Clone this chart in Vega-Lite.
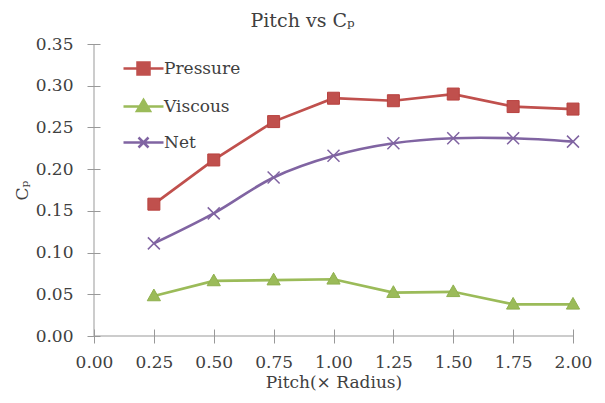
{
  "$schema": "https://vega.github.io/schema/vega-lite/v6.json",
  "width": 479,
  "height": 292,
  "autosize": "none",
  "padding": {"left": 94, "top": 44, "right": 32, "bottom": 67},
  "background": "white",
  "title": {"text": "Pitch vs Cₚ", "fontSize": 19, "font": "DejaVu Serif", "fontWeight": "normal", "color": "#404040", "anchor": "middle", "frame": "bounds", "offset": 4},
  "config": {
    "view": {"stroke": null},
    "font": "DejaVu Serif",
    "axis": {"grid": false, "domain": false, "tickColor": "#999999", "labelFont": "DejaVu Serif", "labelFontSize": 17, "labelColor": "#404040", "titleFont": "DejaVu Serif", "titleFontSize": 17, "titleFontWeight": "normal", "titleColor": "#404040", "labelOverlap": false, "labelFlush": false},
    "legend": {"labelFont": "DejaVu Serif", "labelFontSize": 17, "labelColor": "#404040", "symbolSize": 400, "symbolStrokeWidth": 2.5, "padding": 0, "rowPadding": 15, "labelOffset": 9}
  },
  "data": {"values": [
    {"pitch": 0.25, "series": "Pressure", "cp": 0.158},
    {"pitch": 0.5, "series": "Pressure", "cp": 0.211},
    {"pitch": 0.75, "series": "Pressure", "cp": 0.257},
    {"pitch": 1.0, "series": "Pressure", "cp": 0.285},
    {"pitch": 1.25, "series": "Pressure", "cp": 0.282},
    {"pitch": 1.5, "series": "Pressure", "cp": 0.290},
    {"pitch": 1.75, "series": "Pressure", "cp": 0.275},
    {"pitch": 2.0, "series": "Pressure", "cp": 0.272},
    {"pitch": 0.25, "series": "Viscous", "cp": 0.048},
    {"pitch": 0.5, "series": "Viscous", "cp": 0.066},
    {"pitch": 0.75, "series": "Viscous", "cp": 0.067},
    {"pitch": 1.0, "series": "Viscous", "cp": 0.068},
    {"pitch": 1.25, "series": "Viscous", "cp": 0.052},
    {"pitch": 1.5, "series": "Viscous", "cp": 0.053},
    {"pitch": 1.75, "series": "Viscous", "cp": 0.038},
    {"pitch": 2.0, "series": "Viscous", "cp": 0.038},
    {"pitch": 0.25, "series": "Net", "cp": 0.111},
    {"pitch": 0.5, "series": "Net", "cp": 0.147},
    {"pitch": 0.75, "series": "Net", "cp": 0.190},
    {"pitch": 1.0, "series": "Net", "cp": 0.216},
    {"pitch": 1.25, "series": "Net", "cp": 0.231},
    {"pitch": 1.5, "series": "Net", "cp": 0.237},
    {"pitch": 1.75, "series": "Net", "cp": 0.237},
    {"pitch": 2.0, "series": "Net", "cp": 0.233}
  ]},
  "layer": [
    {
      "transform": [{"filter": "datum.series == 'Pressure'"}],
      "mark": {"type": "line", "color": "#C0504D", "strokeWidth": 2.7},
      "encoding": {
        "x": {"field": "pitch", "type": "quantitative", "scale": {"domain": [0, 2]},
              "axis": {"title": "Pitch(× Radius)", "values": [0, 0.25, 0.5, 0.75, 1, 1.25, 1.5, 1.75, 2], "format": ".2f", "offset": -7, "tickSize": 14, "labelPadding": 11, "titlePadding": 4}},
        "y": {"field": "cp", "type": "quantitative", "scale": {"domain": [0, 0.35]},
              "axis": {"title": "Cₚ", "values": [0, 0.05, 0.1, 0.15, 0.2, 0.25, 0.3, 0.35], "format": ".2f", "offset": -6, "tickSize": 13, "labelPadding": 14, "titlePadding": 4}}
      }
    },
    {
      "transform": [{"filter": "datum.series == 'Viscous'"}],
      "mark": {"type": "line", "color": "#9BBB59", "strokeWidth": 2.7},
      "encoding": {
        "x": {"field": "pitch", "type": "quantitative"},
        "y": {"field": "cp", "type": "quantitative"}
      }
    },
    {
      "transform": [{"filter": "datum.series == 'Net'"}],
      "mark": {"type": "line", "color": "#8064A2", "strokeWidth": 2.7, "interpolate": "catmull-rom"},
      "encoding": {
        "x": {"field": "pitch", "type": "quantitative"},
        "y": {"field": "cp", "type": "quantitative"}
      }
    },
    {
      "transform": [{"filter": "datum.series == 'Pressure'"}],
      "mark": {"type": "point", "shape": "M-1,-1H1V1H-1Z", "filled": true, "size": 144, "fill": "#C0504D", "stroke": "#B8423F", "strokeWidth": 1, "opacity": 1},
      "encoding": {
        "x": {"field": "pitch", "type": "quantitative"},
        "y": {"field": "cp", "type": "quantitative"}
      }
    },
    {
      "transform": [{"filter": "datum.series == 'Viscous'"}],
      "mark": {"type": "point", "shape": "M0,-1.15L1.1,0.8H-1.1Z", "filled": true, "size": 144, "fill": "#9BBB59", "stroke": "#8FB04E", "strokeWidth": 1, "opacity": 1},
      "encoding": {
        "x": {"field": "pitch", "type": "quantitative"},
        "y": {"field": "cp", "type": "quantitative"}
      }
    },
    {
      "transform": [{"filter": "datum.series == 'Net'"}],
      "mark": {"type": "point", "shape": "M-1,-1L1,1M-1,1L1,-1", "filled": false, "size": 144, "stroke": "#8064A2", "strokeWidth": 1.5, "opacity": 1},
      "encoding": {
        "x": {"field": "pitch", "type": "quantitative"},
        "y": {"field": "cp", "type": "quantitative"}
      }
    },
    {
      "data": {"values": [{}]},
      "mark": {"type": "rule", "color": "#999999", "strokeWidth": 1},
      "encoding": {"y": {"datum": 0, "type": "quantitative"}}
    },
    {
      "data": {"values": [{}]},
      "mark": {"type": "rule", "color": "#999999", "strokeWidth": 1},
      "encoding": {"x": {"datum": 0, "type": "quantitative"}}
    },
    {
      "transform": [{"filter": "false"}],
      "mark": {"type": "point", "filled": true, "strokeWidth": 2.5, "opacity": 1},
      "encoding": {
        "color": {"field": "series", "type": "nominal",
                  "scale": {"domain": ["Pressure", "Viscous", "Net"], "range": ["#C0504D", "#9BBB59", "#8064A2"]},
                  "legend": {"title": null, "orient": "none", "legendX": 38, "legendY": 13}},
        "stroke": {"field": "series", "type": "nominal",
                   "scale": {"domain": ["Pressure", "Viscous", "Net"], "range": ["#C0504D", "#9BBB59", "#8064A2"]},
                   "legend": {"title": null, "orient": "none", "legendX": 38, "legendY": 13}},
        "shape": {"field": "series", "type": "nominal",
                  "scale": {"domain": ["Pressure", "Viscous", "Net"], "range": ["M-2,0H2M-0.6,-0.6H0.6V0.6H-0.6Z", "M-2,0H2M0,-0.65L0.65,0.45H-0.65Z", "M-2,0H2M-0.5,-0.5L0.5,0.5M-0.5,0.5L0.5,-0.5"]},
                  "legend": {"title": null, "orient": "none", "legendX": 38, "legendY": 13}}
      }
    }
  ]
}
